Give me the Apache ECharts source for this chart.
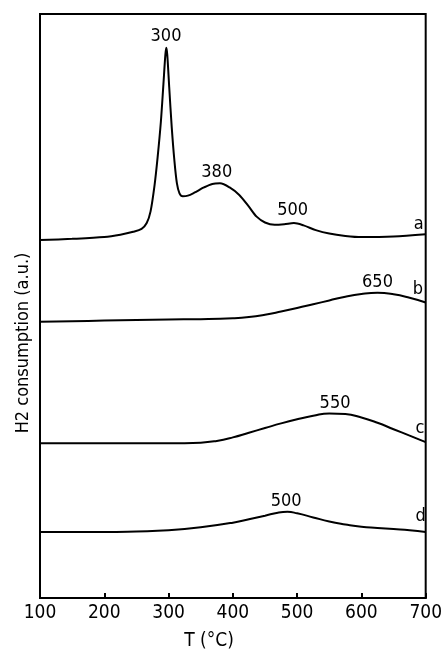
<!DOCTYPE html>
<html>
<head>
<meta charset="utf-8">
<script src="https://cdn.jsdelivr.net/npm/echarts@6/dist/echarts.min.js"></script>
<style>html,body{margin:0;padding:0;background:#fff}#c{width:445px;height:649px}</style>
</head>
<body>
<div id="c"></div>
<script>
// Temperature ticks
var xTicks = [100, 200, 300, 400, 500, 600, 700];
// Curve a (T, signal a.u., vertically offset)
var curveA = [[100,61.3],[150,61.5],[200,61.8],[225,62.2],[245,62.7],[258,63.2],[266,64.2],[272,66.2],[278,70.5],[283,75.5],[288,81.5],[292,88.0],[295,93.0],[296.5,94.2],[298,93.0],[301,87.5],[305,80.5],[309,75.0],[313,71.0],[317,69.3],[322,68.8],[330,68.9],[340,69.4],[355,70.3],[368,70.9],[380,71.0],[395,70.3],[410,69.0],[425,67.0],[437,65.3],[450,64.3],[465,63.9],[480,64.0],[495,64.2],[510,63.8],[529,63.0],[550,62.4],[575,62.0],[600,61.8],[650,61.9],[700,62.3]];
// Curve b
var curveB = [[100,47.3],[150,47.4],[200,47.5],[250,47.6],[300,47.7],[350,47.75],[400,47.9],[425,48.1],[450,48.5],[475,49.05],[500,49.65],[525,50.3],[550,50.95],[575,51.6],[600,52.05],[625,52.25],[650,52.0],[675,51.4],[700,50.6]];
// Curve c
var curveC = [[100,26.5],[150,26.5],[200,26.5],[250,26.5],[300,26.5],[350,26.6],[375,26.9],[400,27.5],[425,28.3],[450,29.1],[475,29.9],[500,30.6],[525,31.2],[550,31.6],[575,31.5],[600,30.9],[625,30.0],[650,28.9],[675,27.8],[700,26.7]];
// Curve d
var curveD = [[100,11.3],[150,11.3],[200,11.3],[250,11.4],[300,11.6],[350,12.1],[400,12.9],[425,13.5],[450,14.1],[470,14.6],[485,14.75],[500,14.5],[525,13.8],[550,13.1],[575,12.6],[600,12.2],[625,12.0],[650,11.8],[675,11.6],[700,11.3]];
// Peak / curve labels [T, value, text]
var labelsA = [[296,96.1,'300'],[375,72.9,'380'],[493,66.3,'500'],[689,63.9,'a']];
var labelsB = [[625,54.1,'650'],[688,52.9,'b']];
var labelsC = [[559,33.4,'550'],[691,29.1,'c']];
var labelsD = [[483,16.6,'500'],[692,13.9,'d']];

var FONT = '"Liberation Sans Narrow","DejaVu Sans Condensed",sans-serif';

function mk(data, labels, smooth){
  return {
    type:'line', data:data, smooth:smooth, showSymbol:false, symbol:'none',
    lineStyle:{color:'#000', width:2}, animation:false,
    markPoint:{
      symbol:'circle', symbolSize:0, animation:false,
      label:{show:true, position:'inside', color:'#000', fontSize:18, fontFamily:FONT,
        formatter:function(p){return p.name;}},
      data:labels.map(function(l){return {coord:[l[0],l[1]], name:l[2], value:l[2]};})
    }
  };
}

var chart = echarts.init(document.getElementById('c'), null, {renderer:'canvas'});
chart.setOption({
  backgroundColor:'#fff',
  animation:false,
  grid:{left:40, right:13, top:14, bottom:51, show:true, borderColor:'#000', borderWidth:2, backgroundColor:'transparent'},
  xAxis:{type:'value', min:xTicks[0], max:xTicks[xTicks.length-1], interval:100,
    axisLine:{show:true, lineStyle:{color:'#000', width:2}},
    axisTick:{show:true, inside:true, length:5, lineStyle:{color:'#000', width:2}},
    splitLine:{show:false},
    axisLabel:{color:'#000', fontSize:19, fontFamily:FONT, margin:6}},
  yAxis:{type:'value', min:0, max:100,
    axisLine:{show:true, lineStyle:{color:'#000', width:2}},
    axisTick:{show:false}, axisLabel:{show:false}, splitLine:{show:false}},
  graphic:[
    {type:'text', x:23, y:343, rotation:Math.PI/2,
      style:{text:'H2 consumption (a.u.)', font:'18px '+FONT, fill:'#000', textAlign:'center', textVerticalAlign:'middle'}},
    {type:'text', x:209, y:641,
      style:{text:'T (°C)', font:'19px '+FONT, fill:'#000', textAlign:'center', textVerticalAlign:'middle'}}
  ],
  series:[mk(curveA, labelsA, 0.3), mk(curveB, labelsB, 0.5), mk(curveC, labelsC, 0.5), mk(curveD, labelsD, 0.5)]
});
</script>
</body>
</html>
